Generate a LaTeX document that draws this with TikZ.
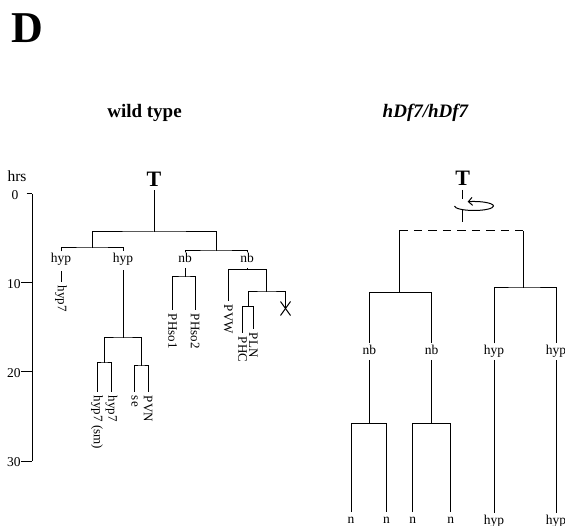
\documentclass[tikz,border=0pt]{standalone}
\usepackage{fontspec}
\setmainfont{Liberation Serif}
\usetikzlibrary{arrows.meta}
\begin{document}
\begin{tikzpicture}[x=1pt,y=-1pt,
  ln/.style={line width=1pt},
  lab/.style={font=\fontsize{13.5}{15}\selectfont, inner sep=0pt, outer sep=2pt, text height=9.5pt, text depth=3pt, anchor=base},
  vlab/.style={font=\fontsize{13}{15}\selectfont, inner sep=0pt, outer sep=4pt, rotate=-90, anchor=west},
  tick/.style={font=\fontsize{13.5}{15}\selectfont, inner sep=0pt},
  bigT/.style={font=\fontsize{22}{24}\selectfont\bfseries, inner sep=0pt, outer sep=4pt, anchor=base},
  ttl/.style={font=\fontsize{19}{22}\selectfont\bfseries, inner sep=0pt, anchor=base}
]
\useasboundingbox (0,0) rectangle (565,526);

% titles
\node[font=\fontsize{44}{48}\selectfont\bfseries, inner sep=0pt, anchor=base] (D) at (27,43) {D};
\node[ttl] (wt) at (144.5,118) {wild type};
\node[ttl, font=\fontsize{19}{22}\selectfont\bfseries\itshape] (mut) at (425.5,118) {hDf7/hDf7};

% time axis
\node[font=\fontsize{15.5}{17}\selectfont, inner sep=0pt, anchor=base] (hrs) at (17,181.5) {hrs};
\coordinate (ax0) at (32,194);
\coordinate (ax30) at (32,461);
\draw[ln] (ax0) -- (ax30);
\node[tick] (tl0) at (15,195) {0};
\node[tick] (tl1) at (13.8,284) {10};
\node[tick] (tl2) at (13.8,373) {20};
\node[tick] (tl3) at (13.8,462) {30};
\draw[ln] (26.7,194) -- (ax0);
\draw[ln] (21,283) -- (32,283);
\draw[ln] (21,372) -- (32,372);
\draw[ln] (21,461) -- (ax30);

% ---------------- wild type tree ----------------
\node[bigT] (T1) at (154,186.5) {T};
\coordinate (r1) at (154,232);
\draw[ln] (T1.south) -- (r1);
\coordinate (hb) at (92,248);
\coordinate (nbb) at (216,251);
\draw[ln] (hb) |- (r1) -| (nbb);

\node[lab] (hyp1) at (61,263) {hyp};
\node[lab] (hyp2) at (123,263) {hyp};
\node[lab] (nb1) at (185,263) {nb};
\node[lab] (nb2) at (247,263) {nb};
\draw[ln] (hyp1.north) |- (hb) -| (hyp2.north);
\draw[ln] (nb1.north) |- (nbb) -| (nb2.north);

% hyp (left) -> hyp7
\node[vlab] (h7a) at (61,282) {hyp7};
\draw[ln, shorten <=3pt] (hyp1.south) -- (h7a.west);

% hyp (right) subtree
\coordinate (c1) at (123,338);
\draw[ln, shorten <=2pt] (hyp2.south) -- (c1);
\coordinate (c1L) at (104.25,363);
\coordinate (c1R) at (141.25,366);
\draw[ln] (c1L) |- (c1) -| (c1R);
\node[vlab] (h7sm) at (97,392) {hyp7 (sm)};
\node[vlab] (h7b) at (111.5,392) {hyp7};
\node[vlab] (se) at (134.5,392) {se};
\node[vlab] (pvn) at (148,392) {PVN};
\draw[ln] (h7sm.west) |- (c1L) -| (h7b.west);
\draw[ln] (se.west) |- (c1R) -| (pvn.west);

% nb (left) subtree
\coordinate (c2) at (185,277);
\draw[ln] (nb1.south) -- (c2);
\node[vlab] (ps1) at (172.7,310) {PHso1};
\node[vlab] (ps2) at (195,310) {PHso2};
\draw[ln] (ps1.west) |- (c2) -| (ps2.west);

% nb (right) subtree
\coordinate (c3) at (247,269.3);
\draw[ln] (nb2.south) -- (c3);
\coordinate (c4) at (266.7,292);
\node[vlab] (pvw) at (228.3,301) {PVW};
\draw[ln] (pvw.west) |- (c3) -| (c4);
\coordinate (c5) at (248,306.7);
\coordinate (xm) at (285.5,308.5);
\draw[ln] (c5) |- (c4) -| (xm);
\draw[ln] (xm) ++(-5,-7) -- ++(10,14);
\draw[ln] (xm) ++(5,-7) -- ++(-10,14);
\node[vlab] (phc) at (242.7,333) {PHC};
\node[vlab] (pln) at (253.3,329) {PLN};
\draw[ln] (phc.west) |- (c5) -| (pln.west);

% ---------------- hDf7/hDf7 tree ----------------
\node[bigT] (T2) at (462.7,186) {T};
\coordinate (r2) at (462.7,231);
\draw[ln, dash pattern=on 9pt off 10pt on 13pt off 20pt] (T2.south) -- (r2);
\coordinate (rot) at (474,206);
\draw[line width=1pt, -{Straight Barb[length=4pt,width=8pt]}]
  ([xshift=-19.5pt]rot) arc[start angle=180, end angle=469, x radius=19.5pt, y radius=4.5pt];
\coordinate (dl) at (399.3,231);
\coordinate (dr) at (523.3,231);
\draw[ln, dash pattern=on 8.5pt off 6pt] (dl) -- (dr);
\coordinate (cL) at (399.3,292.7);
\coordinate (cR) at (523.3,288);
\draw[ln] (dl) -- (cL);
\draw[ln] (dr) -- (cR);

\node[lab] (nb3) at (369.3,355) {nb};
\node[lab] (nb4) at (431.5,355) {nb};
\node[lab] (hy3) at (494,355) {hyp};
\node[lab] (hy4) at (556,355) {hyp};
\draw[ln] (nb3.north) |- (cL) -| (nb4.north);
\draw[ln] (hy3.north) |- (cR) -| (hy4.north);

\coordinate (c6) at (369.3,423.3);
\coordinate (c7) at (431.5,423.3);
\draw[ln] (nb3.south) -- (c6);
\draw[ln] (nb4.south) -- (c7);
\node[lab] (n1) at (351,523.5) {n};
\node[lab] (n2) at (386.5,523.5) {n};
\node[lab] (n3) at (412.7,523.5) {n};
\node[lab] (n4) at (450.7,523.5) {n};
\draw[ln] (n1.north) |- (c6) -| (n2.north);
\draw[ln] (n3.north) |- (c7) -| (n4.north);
\node[lab] (hy5) at (494,524) {hyp};
\node[lab] (hy6) at (556,524) {hyp};
\draw[ln] (hy3.south) -- (hy5.north);
\draw[ln] (hy4.south) -- (hy6.north);
\end{tikzpicture}
\end{document}
